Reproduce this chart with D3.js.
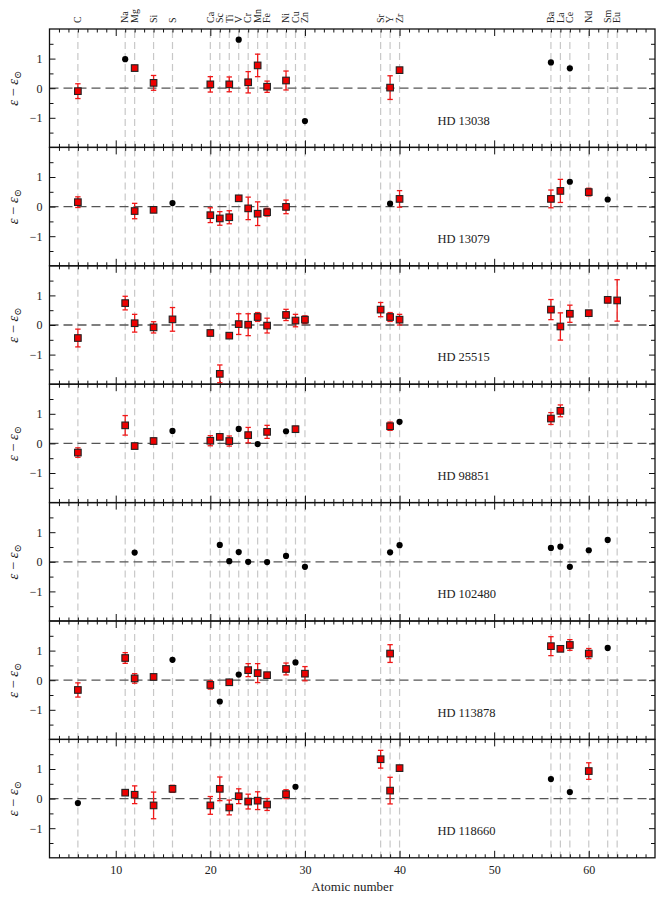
<!DOCTYPE html>
<html>
<head>
<meta charset="utf-8">
<script src="https://cdn.jsdelivr.net/npm/d3@7"></script>
<style>
body { margin: 0; background: #fff; }
svg { display: block; }
</style>
</head>
<body>
<div id="chart"></div>
<script>
// elements marked along the top
var elemZ = [6, 11, 12, 14, 16, 20, 21, 22, 23, 24, 25, 26, 28, 29, 30, 38, 39, 40, 56, 57, 58, 60, 62, 63];
var elemSym = ["C", "Na", "Mg", "Si", "S", "Ca", "Sc", "Ti", "V", "Cr", "Mn", "Fe", "Ni", "Cu", "Zn", "Sr", "Y", "Zr", "Ba", "La", "Ce", "Nd", "Sm", "Eu"];

var starNames = ["HD 13038", "HD 13079", "HD 25515", "HD 98851", "HD 102480", "HD 113878", "HD 118660"];

// red squares: [Z, value, error]   black dots: [Z, value]
var hd13038Sq = [[6, -0.10, 0.25], [12, 0.68, 0.05], [14, 0.18, 0.25], [20, 0.13, 0.26], [22, 0.13, 0.25],
    [24, 0.20, 0.36], [25, 0.77, 0.38], [26, 0.05, 0.19], [28, 0.26, 0.32], [39, 0.02, 0.40], [40, 0.61, 0.05]];
var hd13038Dots = [[11, 0.98], [23, 1.64], [30, -1.11], [56, 0.87], [58, 0.67]];

var hd13079Sq = [[6, 0.15, 0.18], [12, -0.15, 0.26], [14, -0.11, 0.04], [20, -0.29, 0.25], [21, -0.40, 0.23],
    [22, -0.36, 0.22], [23, 0.28, 0.04], [24, -0.06, 0.38], [25, -0.24, 0.40], [26, -0.19, 0.13], [28, -0.01, 0.23],
    [40, 0.26, 0.28], [56, 0.26, 0.30], [57, 0.53, 0.39], [60, 0.49, 0.13]];
var hd13079Dots = [[16, 0.12], [39, 0.10], [58, 0.84], [62, 0.24]];

var hd25515Sq = [[6, -0.44, 0.30], [11, 0.74, 0.23], [12, 0.06, 0.30], [14, -0.08, 0.19], [16, 0.19, 0.40],
    [20, -0.27, 0.05], [21, -1.65, 0.30], [22, -0.36, 0.04], [23, 0.03, 0.35], [24, 0.01, 0.37], [25, 0.27, 0.15],
    [26, -0.02, 0.25], [28, 0.34, 0.19], [29, 0.15, 0.21], [30, 0.18, 0.13], [38, 0.52, 0.24], [39, 0.27, 0.15],
    [40, 0.18, 0.18], [56, 0.52, 0.34], [57, -0.05, 0.46], [58, 0.38, 0.29], [60, 0.40, 0.07], [62, 0.85, 0.10], [63, 0.83, 0.70]];
var hd25515Dots = [];

var hd98851Sq = [[6, -0.31, 0.16], [11, 0.61, 0.33], [12, -0.09, 0.03], [14, 0.08, 0.10], [20, 0.09, 0.17],
    [21, 0.22, 0.04], [22, 0.08, 0.17], [24, 0.28, 0.26], [26, 0.39, 0.22], [29, 0.48, 0.10], [39, 0.58, 0.14],
    [56, 0.84, 0.20], [57, 1.10, 0.20]];
var hd98851Dots = [[16, 0.42], [23, 0.49], [25, -0.02], [28, 0.41], [40, 0.73]];

var hd102480Sq = [];
var hd102480Dots = [[12, 0.31], [21, 0.57], [22, 0.02], [23, 0.33], [24, 0.00], [26, -0.01], [28, 0.20],
    [30, -0.17], [39, 0.32], [40, 0.56], [56, 0.47], [57, 0.51], [58, -0.17], [60, 0.39], [62, 0.74]];

var hd113878Sq = [[6, -0.33, 0.24], [11, 0.75, 0.18], [12, 0.06, 0.16], [14, 0.11, 0.04], [20, -0.16, 0.14],
    [22, -0.07, 0.04], [24, 0.34, 0.22], [25, 0.24, 0.32], [26, 0.17, 0.07], [28, 0.38, 0.20], [30, 0.22, 0.24],
    [39, 0.90, 0.30], [56, 1.15, 0.32], [57, 1.06, 0.03], [58, 1.19, 0.18], [60, 0.90, 0.17]];
var hd113878Dots = [[16, 0.69], [21, -0.72], [23, 0.19], [29, 0.60], [62, 1.09]];

var hd118660Sq = [[11, 0.20, 0.05], [12, 0.13, 0.30], [14, -0.23, 0.45], [16, 0.33, 0.12], [20, -0.23, 0.30],
    [21, 0.33, 0.40], [22, -0.30, 0.25], [23, 0.08, 0.25], [24, -0.10, 0.25], [25, -0.07, 0.30], [26, -0.20, 0.20],
    [28, 0.15, 0.15], [38, 1.33, 0.30], [39, 0.27, 0.45], [40, 1.03, 0.08], [60, 0.93, 0.28]];
var hd118660Dots = [[6, -0.15], [29, 0.40], [56, 0.66], [58, 0.22]];

var squareSets = [hd13038Sq, hd13079Sq, hd25515Sq, hd98851Sq, hd102480Sq, hd113878Sq, hd118660Sq];
var dotSets = [hd13038Dots, hd13079Dots, hd25515Dots, hd98851Dots, hd102480Dots, hd113878Dots, hd118660Dots];

function init() {
    var w = 664;
    var h = 903;
    var left = 49.5, right = 655, top = 29, ph = 118.4;
    var font = "'Liberation Serif', 'DejaVu Serif', serif";

    var svg = d3.select("#chart")
                .append("svg")
                .attr("width", w)
                .attr("height", h)
                .style("font-family", font);

    var x = d3.scaleLinear().domain([3, 67]).range([left, right]);
    var xMajor = [10, 20, 30, 40, 50, 60];
    var xMinor = d3.range(4, 67).filter(function(v) { return v % 10 != 0; });

    // element names on top
    svg.selectAll("text.elem")
        .data(elemZ)
        .enter()
        .append("text")
        .attr("class", "elem")
        .attr("transform", function(d) { return "translate(" + (x(d) + 3.3) + ",23) rotate(-90)"; })
        .attr("font-size", 10)
        .attr("fill", "#222")
        .text(function(d, i) { return elemSym[i]; });

    starNames.forEach(function(name, i) {
        var y0 = top + i * ph;
        var y = d3.scaleLinear().domain([-2, 2]).range([y0 + ph, y0]);
        var g = svg.append("g");

        // vertical dashed guides
        g.selectAll("line.guide")
            .data(elemZ)
            .enter()
            .append("line")
            .attr("x1", function(d) { return x(d); })
            .attr("x2", function(d) { return x(d); })
            .attr("y1", y0 + 2)
            .attr("y2", y0 + ph)
            .attr("stroke", "#c8c8c8")
            .attr("stroke-width", 1.2)
            .attr("stroke-dasharray", "7,4");

        // zero line
        g.append("line")
            .attr("x1", left)
            .attr("x2", right)
            .attr("y1", y(0))
            .attr("y2", y(0))
            .attr("stroke", "#555")
            .attr("stroke-width", 1.3)
            .attr("stroke-dasharray", "9,5");

        // axes, ticks pointing inward
        var axes = [
            d3.axisLeft(y).tickValues([-1, 0, 1]).tickSize(-6).tickPadding(7).tickFormat(d3.format("d")),
            d3.axisLeft(y).tickValues([-1.5, -0.5, 0.5, 1.5]).tickSize(-4).tickFormat("")
        ];
        axes.forEach(function(a) {
            g.append("g").attr("transform", "translate(" + left + ",0)").call(a);
        });
        [6, 4].forEach(function(s, k) {
            g.append("g").attr("transform", "translate(" + right + ",0)")
                .call(d3.axisRight(y).tickValues(k == 0 ? [-1, 0, 1] : [-1.5, -0.5, 0.5, 1.5]).tickSize(-s).tickFormat(""));
        });
        g.append("g").attr("transform", "translate(0," + y0 + ")")
            .call(d3.axisTop(x).tickValues(xMajor).tickSize(-7).tickFormat(""));
        g.append("g").attr("transform", "translate(0," + y0 + ")")
            .call(d3.axisTop(x).tickValues(xMinor).tickSize(-3.5).tickFormat(""));
        var last = i == starNames.length - 1;
        g.append("g").attr("transform", "translate(0," + (y0 + ph) + ")")
            .call(d3.axisBottom(x).tickValues(xMajor).tickSize(-7).tickPadding(8)
                .tickFormat(last ? d3.format("d") : ""));
        g.append("g").attr("transform", "translate(0," + (y0 + ph) + ")")
            .call(d3.axisBottom(x).tickValues(xMinor).tickSize(-3.5).tickFormat(""));
        g.selectAll(".domain").remove();
        g.selectAll(".tick line").attr("stroke", "#111").attr("stroke-width", 1);
        g.selectAll(".tick text")
            .attr("font-family", font)
            .attr("font-size", 12)
            .attr("fill", "#222")
            .text(function() { return d3.select(this).text().replace("-", "\u2212"); });

        // frame
        g.append("rect")
            .attr("x", left)
            .attr("y", y0)
            .attr("width", right - left)
            .attr("height", ph)
            .attr("fill", "none")
            .attr("stroke", "#111")
            .attr("stroke-width", 1.3);

        // y label
        var lab = g.append("text")
            .attr("transform", "translate(18," + (y0 + ph / 2) + ") rotate(-90)")
            .attr("text-anchor", "middle")
            .attr("font-size", 14.5)
            .attr("fill", "#222");
        lab.append("tspan").attr("font-style", "italic").text("\u03b5");
        lab.append("tspan").text(" \u2212 ");
        lab.append("tspan").attr("font-style", "italic").text("\u03b5");
        lab.append("tspan").attr("font-size", 10).attr("dy", 3).text("\u2299");

        // star name
        g.append("text")
            .attr("x", x(44))
            .attr("y", y(-1.23))
            .attr("font-size", 12.5)
            .attr("fill", "#222")
            .text(name);

        // error bars
        var sq = squareSets[i];
        var eb = g.selectAll("g.err")
            .data(sq)
            .enter()
            .append("g")
            .attr("stroke", "#f01818")
            .attr("stroke-width", 1.3);
        eb.append("line")
            .attr("x1", function(d) { return x(d[0]); })
            .attr("x2", function(d) { return x(d[0]); })
            .attr("y1", function(d) { return y(d[1] - d[2]); })
            .attr("y2", function(d) { return y(d[1] + d[2]); });
        [-1, 1].forEach(function(s) {
            eb.append("line")
                .attr("x1", function(d) { return x(d[0]) - 2.7; })
                .attr("x2", function(d) { return x(d[0]) + 2.7; })
                .attr("y1", function(d) { return y(d[1] + s * d[2]); })
                .attr("y2", function(d) { return y(d[1] + s * d[2]); });
        });

        // squares
        g.selectAll("rect.sq")
            .data(sq)
            .enter()
            .append("rect")
            .attr("x", function(d) { return x(d[0]) - 3.3; })
            .attr("y", function(d) { return y(d[1]) - 3.3; })
            .attr("width", 6.6)
            .attr("height", 6.6)
            .attr("fill", "#ee0000")
            .attr("stroke", "#222")
            .attr("stroke-width", 1.1);

        // dots
        g.selectAll("circle.dot")
            .data(dotSets[i])
            .enter()
            .append("circle")
            .attr("cx", function(d) { return x(d[0]); })
            .attr("cy", function(d) { return y(d[1]); })
            .attr("r", 3.1)
            .attr("fill", "#000");
    });

    svg.append("text")
        .attr("x", x(35))
        .attr("y", 891)
        .attr("text-anchor", "middle")
        .attr("font-size", 13)
        .attr("fill", "#222")
        .text("Atomic number");
}

window.onload = init;
</script>
</body>
</html>
